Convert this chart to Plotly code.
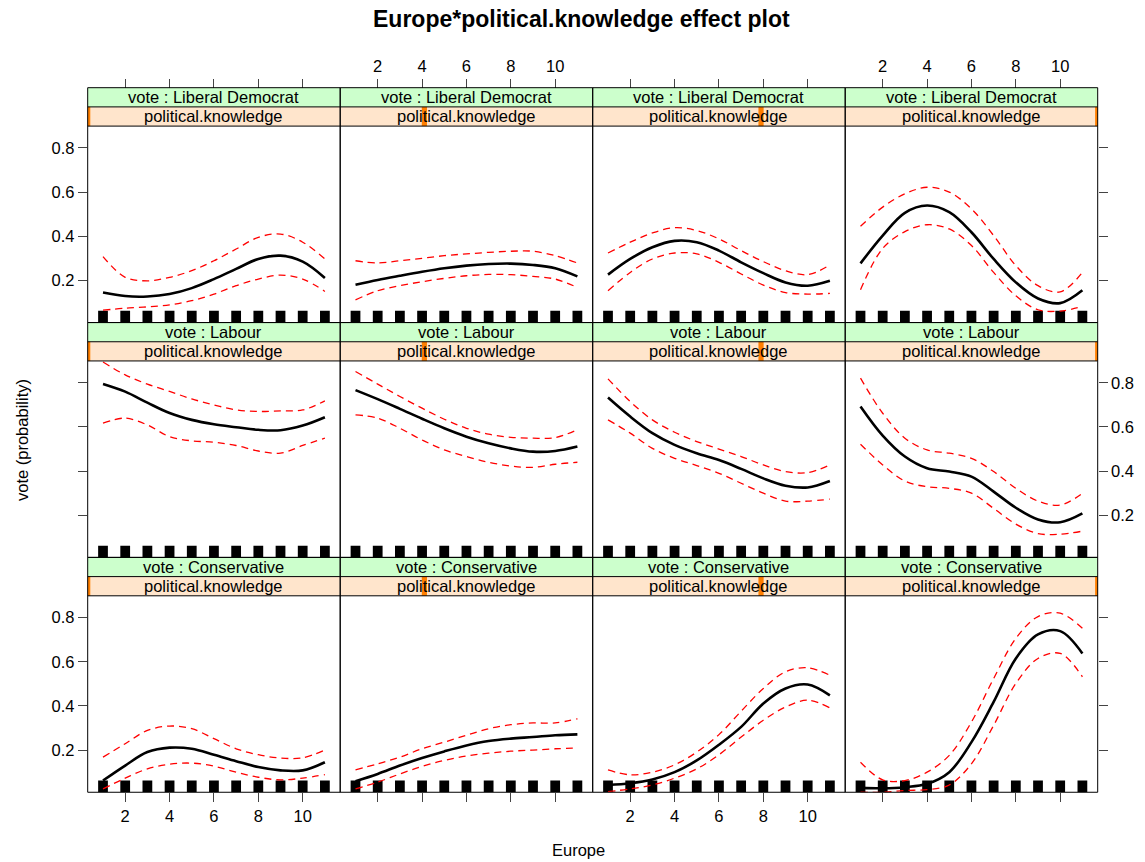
import plotly.graph_objects as go

# ---- data -------------------------------------------------------------
europe = list(range(1, 12))
political_knowledge = [0, 1, 2, 3]
vote_levels = ["Liberal Democrat", "Labour", "Conservative"]
x_ticks = [2, 4, 6, 8, 10]
y_ticks = [0.2, 0.4, 0.6, 0.8]

# one row per political.knowledge level, values at Europe = 1..11
libdem_fit = [
    [0.145, 0.129, 0.127, 0.138, 0.165, 0.206, 0.252, 0.297, 0.312, 0.285, 0.211],
    [0.180, 0.202, 0.221, 0.239, 0.255, 0.267, 0.274, 0.276, 0.270, 0.255, 0.218],
    [0.226, 0.297, 0.350, 0.379, 0.373, 0.335, 0.282, 0.233, 0.191, 0.176, 0.198],
    [0.277, 0.403, 0.506, 0.539, 0.509, 0.418, 0.297, 0.191, 0.118, 0.097, 0.155],
]
libdem_lower = [
    [0.065, 0.074, 0.080, 0.089, 0.108, 0.138, 0.176, 0.206, 0.224, 0.206, 0.150],
    [0.112, 0.153, 0.176, 0.194, 0.209, 0.221, 0.227, 0.226, 0.218, 0.206, 0.168],
    [0.153, 0.236, 0.297, 0.324, 0.320, 0.282, 0.229, 0.179, 0.145, 0.138, 0.141],
    [0.158, 0.345, 0.421, 0.452, 0.433, 0.358, 0.236, 0.130, 0.067, 0.061, 0.082],
]
libdem_upper = [
    [0.308, 0.214, 0.198, 0.214, 0.244, 0.289, 0.342, 0.395, 0.410, 0.373, 0.297],
    [0.289, 0.279, 0.289, 0.300, 0.312, 0.320, 0.327, 0.332, 0.332, 0.312, 0.279],
    [0.324, 0.373, 0.415, 0.439, 0.426, 0.388, 0.335, 0.285, 0.244, 0.226, 0.270],
    [0.445, 0.532, 0.592, 0.622, 0.600, 0.524, 0.403, 0.267, 0.176, 0.148, 0.236],
]
labour_fit = [
    [0.795, 0.760, 0.710, 0.663, 0.632, 0.612, 0.599, 0.587, 0.585, 0.606, 0.644],
    [0.767, 0.726, 0.682, 0.637, 0.594, 0.556, 0.526, 0.503, 0.488, 0.491, 0.511],
    [0.733, 0.647, 0.572, 0.519, 0.481, 0.450, 0.410, 0.367, 0.334, 0.326, 0.355],
    [0.693, 0.561, 0.466, 0.413, 0.398, 0.375, 0.307, 0.234, 0.181, 0.168, 0.208],
]
labour_lower = [
    [0.617, 0.640, 0.609, 0.556, 0.537, 0.531, 0.516, 0.491, 0.481, 0.516, 0.549],
    [0.655, 0.640, 0.594, 0.541, 0.496, 0.466, 0.440, 0.423, 0.417, 0.431, 0.440],
    [0.632, 0.572, 0.503, 0.458, 0.425, 0.390, 0.345, 0.300, 0.264, 0.264, 0.273],
    [0.522, 0.428, 0.355, 0.329, 0.322, 0.300, 0.231, 0.160, 0.117, 0.114, 0.128],
]
labour_upper = [
    [0.894, 0.836, 0.794, 0.761, 0.727, 0.700, 0.677, 0.670, 0.673, 0.677, 0.718],
    [0.851, 0.794, 0.738, 0.685, 0.635, 0.594, 0.567, 0.553, 0.549, 0.552, 0.587],
    [0.818, 0.715, 0.632, 0.576, 0.534, 0.500, 0.466, 0.428, 0.398, 0.393, 0.428],
    [0.821, 0.662, 0.549, 0.496, 0.481, 0.458, 0.398, 0.322, 0.264, 0.246, 0.299],
]
conservative_fit = [
    [0.062, 0.130, 0.191, 0.211, 0.206, 0.179, 0.150, 0.123, 0.108, 0.108, 0.145],
    [0.059, 0.092, 0.130, 0.164, 0.194, 0.221, 0.241, 0.252, 0.259, 0.267, 0.271],
    [0.042, 0.050, 0.067, 0.100, 0.153, 0.224, 0.305, 0.411, 0.479, 0.497, 0.448],
    [0.029, 0.027, 0.032, 0.047, 0.100, 0.236, 0.418, 0.615, 0.724, 0.739, 0.638],
]
conservative_lower = [
    [0.024, 0.073, 0.115, 0.136, 0.141, 0.127, 0.100, 0.077, 0.065, 0.073, 0.089],
    [0.024, 0.055, 0.092, 0.126, 0.153, 0.173, 0.186, 0.195, 0.200, 0.206, 0.209],
    [0.012, 0.024, 0.042, 0.073, 0.115, 0.179, 0.259, 0.335, 0.395, 0.426, 0.391],
    [0.009, 0.009, 0.017, 0.021, 0.042, 0.138, 0.312, 0.502, 0.615, 0.638, 0.532],
]
conservative_upper = [
    [0.168, 0.229, 0.289, 0.309, 0.297, 0.252, 0.206, 0.179, 0.164, 0.165, 0.200],
    [0.110, 0.138, 0.168, 0.206, 0.236, 0.267, 0.297, 0.315, 0.323, 0.323, 0.342],
    [0.110, 0.088, 0.100, 0.133, 0.191, 0.270, 0.376, 0.479, 0.555, 0.573, 0.539],
    [0.145, 0.065, 0.062, 0.100, 0.176, 0.327, 0.524, 0.706, 0.805, 0.820, 0.752],
]

fits = [libdem_fit, labour_fit, conservative_fit]
lowers = [libdem_lower, labour_lower, conservative_lower]
uppers = [libdem_upper, labour_upper, conservative_upper]

# ---- layout geometry (pixels) -----------------------------------------
W, H = 1145, 862
LEFT, TOP = 87.7, 87.7
COL_W, ROW_H, STRIP_H = 252.5, 234.85, 19.2
X_RANGE = [0.31, 11.69]
Y_RANGE = [0.009, 0.899]
RUG_W = 0.44            # data units
RUG_PX = 11.7           # rug height in pixels
FONT = "Liberation Sans, Arial, Helvetica, sans-serif"
FS = 16.5

STRIP_GREEN = "#CCFFCC"
STRIP_ORANGE = "#FFE5CC"
INDICATOR = "#FF7F00"
TICK_COLOR = "#444444"


def fx(p):
    return p / W


def fy(p):
    return 1 - p / H


panel_h = ROW_H - 2 * STRIP_H
rug_h = RUG_PX * (Y_RANGE[1] - Y_RANGE[0]) / panel_h

fig = go.Figure()
shapes = []
annotations = []
layout = {}

pk_min, pk_max = min(political_knowledge), max(political_knowledge)

for r, vote in enumerate(vote_levels):
    row_top = TOP + r * ROW_H
    panel_top = row_top + 2 * STRIP_H
    panel_bot = row_top + ROW_H
    for c, pk in enumerate(political_knowledge):
        n = r * 4 + c + 1
        xa, ya = f"x{n}", f"y{n}"
        x0 = LEFT + c * COL_W
        x1 = x0 + COL_W

        # rug of observed Europe values
        fig.add_trace(go.Bar(
            x=europe, y=[rug_h] * len(europe), base=Y_RANGE[0], width=RUG_W,
            marker=dict(color="black", line=dict(width=0)),
            xaxis=xa, yaxis=ya, hoverinfo="skip", showlegend=False))
        # confidence bounds
        for band in (lowers[r][c], uppers[r][c]):
            fig.add_trace(go.Scatter(
                x=europe, y=band, mode="lines",
                line=dict(color="#FF0000", width=1.3, dash="7px,5px", shape="spline"),
                xaxis=xa, yaxis=ya, hoverinfo="skip", showlegend=False))
        # fitted effect
        fig.add_trace(go.Scatter(
            x=europe, y=fits[r][c], mode="lines",
            line=dict(color="black", width=2.6, shape="spline"),
            xaxis=xa, yaxis=ya, hoverinfo="skip", showlegend=False))

        xkey = "xaxis" if n == 1 else f"xaxis{n}"
        ykey = "yaxis" if n == 1 else f"yaxis{n}"

        xax = dict(domain=[fx(x0), fx(x1)], range=X_RANGE, anchor=ya,
                   showgrid=False, zeroline=False, showline=False,
                   tickvals=x_ticks, ticks="", showticklabels=False,
                   tickfont=dict(family=FONT, size=FS, color="black"),
                   tickcolor=TICK_COLOR, ticklen=9, tickwidth=1, fixedrange=True)
        if r == len(vote_levels) - 1:
            xax.update(ticks="outside", side="bottom", showticklabels=(c % 2 == 0))
        elif r == 0:
            xax.update(ticks="outside", side="top", anchor="free",
                       position=fy(TOP), showticklabels=(c % 2 == 1))
        yax = dict(domain=[fy(panel_bot), fy(panel_top)], range=Y_RANGE, anchor=xa,
                   showgrid=False, zeroline=False, showline=False,
                   tickvals=y_ticks, ticktext=[f"{v:.1f}" for v in y_ticks],
                   ticks="", showticklabels=False,
                   tickfont=dict(family=FONT, size=FS, color="black"),
                   tickcolor=TICK_COLOR, ticklen=9, tickwidth=1, fixedrange=True)
        if c == 0:
            yax.update(ticks="outside", side="left", showticklabels=(r % 2 == 0))
        elif c == len(political_knowledge) - 1:
            yax.update(ticks="outside", side="right", showticklabels=(r % 2 == 1))
        layout[xkey] = xax
        layout[ykey] = yax

        # strips
        s1_top, s1_bot = row_top, row_top + STRIP_H
        s2_top, s2_bot = s1_bot, s1_bot + STRIP_H
        shapes.append(dict(type="rect", xref="paper", yref="paper",
                           x0=fx(x0), x1=fx(x1), y0=fy(s1_bot), y1=fy(s1_top),
                           fillcolor=STRIP_GREEN, line=dict(width=0), layer="below"))
        shapes.append(dict(type="rect", xref="paper", yref="paper",
                           x0=fx(x0), x1=fx(x1), y0=fy(s2_bot), y1=fy(s2_top),
                           fillcolor=STRIP_ORANGE, line=dict(width=0), layer="below"))
        frac = (pk - pk_min) / (pk_max - pk_min)
        cx = x0 + frac * COL_W
        ix0, ix1 = max(x0, cx - 2.6), min(x1, cx + 2.6)
        shapes.append(dict(type="rect", xref="paper", yref="paper",
                           x0=fx(ix0), x1=fx(ix1), y0=fy(s2_bot), y1=fy(s2_top),
                           fillcolor=INDICATOR, line=dict(width=0), layer="below"))
        for yy in (s1_bot, s2_bot):
            shapes.append(dict(type="line", xref="paper", yref="paper",
                               x0=fx(x0), x1=fx(x1), y0=fy(yy), y1=fy(yy),
                               line=dict(color="black", width=1), layer="above"))
        shapes.append(dict(type="rect", xref="paper", yref="paper",
                           x0=fx(x0), x1=fx(x1), y0=fy(panel_bot), y1=fy(row_top),
                           line=dict(color="black", width=1), layer="above"))
        annotations.append(dict(text=f"vote : {vote}", xref="paper", yref="paper",
                                x=fx((x0 + x1) / 2), y=fy((s1_top + s1_bot) / 2),
                                showarrow=False, xanchor="center", yanchor="middle",
                                font=dict(family=FONT, size=FS, color="black")))
        annotations.append(dict(text="political.knowledge", xref="paper", yref="paper",
                                x=fx((x0 + x1) / 2), y=fy((s2_top + s2_bot) / 2),
                                showarrow=False, xanchor="center", yanchor="middle",
                                font=dict(family=FONT, size=FS, color="black")))

annotations.append(dict(text="<b>Europe*political.knowledge effect plot</b>",
                        xref="paper", yref="paper", x=fx(581.5), y=fy(18.5),
                        showarrow=False, xanchor="center", yanchor="middle",
                        font=dict(family=FONT, size=23, color="black")))
annotations.append(dict(text="Europe", xref="paper", yref="paper",
                        x=fx(578.5), y=fy(850), showarrow=False,
                        xanchor="center", yanchor="middle",
                        font=dict(family=FONT, size=FS, color="black")))
annotations.append(dict(text="vote (probability)", xref="paper", yref="paper",
                        x=fx(22), y=fy(440), showarrow=False, textangle=-90,
                        xanchor="center", yanchor="middle",
                        font=dict(family=FONT, size=FS, color="black")))

fig.update_layout(
    width=W, height=H,
    margin=dict(l=0, r=0, t=0, b=0),
    paper_bgcolor="white", plot_bgcolor="white",
    showlegend=False, hovermode=False, barmode="overlay",
    shapes=shapes, annotations=annotations,
    **layout,
)

fig.write_html("out.html")
